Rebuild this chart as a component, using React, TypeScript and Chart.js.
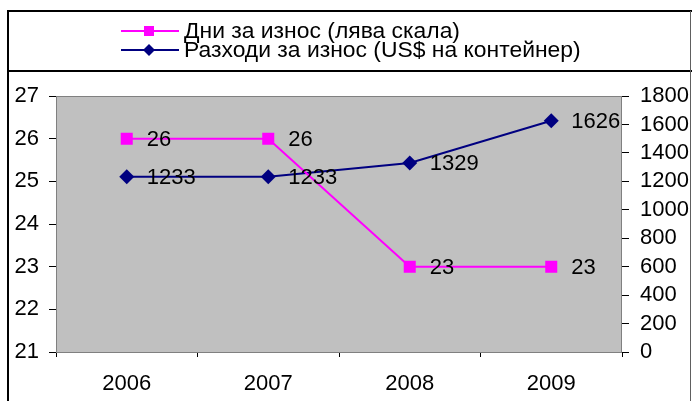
import React, { useEffect, useRef } from "react";
import { Chart, registerables } from "chart.js";

Chart.register(...registerables);

const categories = ["2006", "2007", "2008", "2009"];
const daysLabel = "Дни за износ (лява скала)";
const costLabel = "Разходи за износ (US$ на контейнер)";
const daysValues = [26, 26, 23, 23];
const costValues = [1233, 1233, 1329, 1626];
const leftTicks = [21, 22, 23, 24, 25, 26, 27];
const rightTicks = [0, 200, 400, 600, 800, 1000, 1200, 1400, 1600, 1800];

const FONT = "Liberation Sans, Arial, sans-serif";

const framePlugin = {
  id: "frame",
  beforeDraw(chart: any) {
    const { ctx, chartArea: a, width, height } = chart;
    ctx.save();
    ctx.fillStyle = "#ffffff";
    ctx.fillRect(0, 0, width, height);
    ctx.fillStyle = "#c0c0c0";
    ctx.fillRect(a.left, a.top, a.right - a.left, a.bottom - a.top);
    ctx.restore();
  },
  beforeDatasetsDraw(chart: any) {
    const { ctx, chartArea: a } = chart;
    ctx.save();
    ctx.strokeStyle = "#808080";
    ctx.lineWidth = 1;
    ctx.strokeRect(a.left + 0.5, a.top + 0.5, a.right - a.left - 1, a.bottom - a.top);
    ctx.restore();
  },
  afterDatasetsDraw(chart: any) {
    const { ctx } = chart;
    ctx.save();
    ctx.fillStyle = "#000";
    ctx.font = `22px ${FONT}`;
    ctx.textAlign = "left";
    ctx.textBaseline = "middle";
    chart.data.datasets.forEach((ds: any, i: number) => {
      const meta = chart.getDatasetMeta(i);
      meta.data.forEach((pt: any, j: number) => {
        ctx.fillText(String(ds.data[j]), pt.x + 20, pt.y + 1);
      });
    });
    ctx.restore();
  },
  afterDraw(chart: any) {
    const { ctx, width, height } = chart;
    ctx.save();
    // outer frame
    ctx.strokeStyle = "#000";
    ctx.lineWidth = 2;
    ctx.beginPath();
    ctx.moveTo(8, height);
    ctx.lineTo(8, 11);
    ctx.lineTo(width, 11);
    ctx.moveTo(8, 71);
    ctx.lineTo(width, 71);
    ctx.stroke();
    ctx.strokeStyle = "#606060";
    ctx.lineWidth = 1;
    ctx.beginPath();
    ctx.moveTo(690.5, 11);
    ctx.lineTo(690.5, height);
    ctx.stroke();
    // legend
    const rows = [
      { y: 31, ds: chart.data.datasets[0] },
      { y: 50, ds: chart.data.datasets[1] },
    ];
    rows.forEach((r) => {
      ctx.strokeStyle = r.ds.borderColor;
      ctx.lineWidth = 2;
      ctx.beginPath();
      ctx.moveTo(121, r.y);
      ctx.lineTo(179, r.y);
      ctx.stroke();
      ctx.fillStyle = r.ds.backgroundColor;
      if (r.ds.pointStyle === "rect") {
        ctx.fillRect(149 - 5, r.y - 5, 10, 10);
      } else {
        ctx.beginPath();
        ctx.moveTo(149 - 6, r.y);
        ctx.lineTo(149, r.y - 6);
        ctx.lineTo(149 + 6, r.y);
        ctx.lineTo(149, r.y + 6);
        ctx.closePath();
        ctx.fill();
      }
      ctx.save();
      ctx.fillStyle = "#000";
      ctx.font = `22px ${FONT}`;
      ctx.textAlign = "left";
      ctx.textBaseline = "middle";
      ctx.translate(184, r.y + 1);
      ctx.scale(1.04, 1);
      ctx.fillText(r.ds.label, 0, 0);
      ctx.restore();
    });
    ctx.restore();
  },
};

export default function App() {
  const ref = useRef<HTMLCanvasElement | null>(null);
  useEffect(() => {
    if (!ref.current) return;
    const tickFont = { size: 22, family: FONT };
    const chart = new Chart(ref.current, {
      type: "line",
      data: {
        labels: categories,
        datasets: [
          {
            label: daysLabel,
            data: daysValues,
            yAxisID: "y",
            borderColor: "#ff00ff",
            backgroundColor: "#ff00ff",
            borderWidth: 2,
            pointStyle: "rect",
            pointRadius: 8.5,
            pointBorderWidth: 0,
            tension: 0,
          },
          {
            label: costLabel,
            data: costValues,
            yAxisID: "y1",
            borderColor: "#000080",
            backgroundColor: "#000080",
            borderWidth: 2,
            pointStyle: "rectRot",
            pointRadius: 7.5,
            pointBorderWidth: 0,
            tension: 0,
          },
        ],
      },
      options: {
        responsive: false,
        animation: false,
        layout: { padding: { top: 96, left: 0, right: 0, bottom: 0 } },
        plugins: { legend: { display: false }, tooltip: { enabled: false } },
        scales: {
          x: {
            type: "category",
            offset: true,
            grid: { offset: true, drawOnChartArea: false, tickLength: 5, color: "#000" },
            border: { display: false },
            ticks: { color: "#000", font: tickFont, padding: 14, maxRotation: 0, autoSkip: false },
            afterFit(s: any) { s.height = 49; },
          },
          y: {
            position: "left",
            min: 21,
            max: 27,
            afterBuildTicks(s: any) { s.ticks = leftTicks.map((v) => ({ value: v })); },
            grid: { drawOnChartArea: false, tickLength: 7, color: "#000" },
            border: { display: false },
            ticks: { color: "#000", font: tickFont, padding: 10, autoSkip: false, callback: (v: any) => String(v) },
            afterFit(s: any) { s.width = 56; },
          },
          y1: {
            position: "right",
            min: 0,
            max: 1800,
            afterBuildTicks(s: any) { s.ticks = rightTicks.map((v) => ({ value: v })); },
            grid: { drawOnChartArea: false, tickLength: 7, color: "#000" },
            border: { display: false },
            ticks: { color: "#000", font: tickFont, padding: 11, autoSkip: false, callback: (v: any) => String(v) },
            afterFit(s: any) { s.width = 70; },
          },
        },
      },
      plugins: [framePlugin],
    } as any);
    return () => chart.destroy();
  }, []);
  return (
    <div style={{ position: "absolute", left: 0, top: 0, width: 692, height: 401 }}>
      <canvas ref={ref} width={692} height={401} />
    </div>
  );
}
